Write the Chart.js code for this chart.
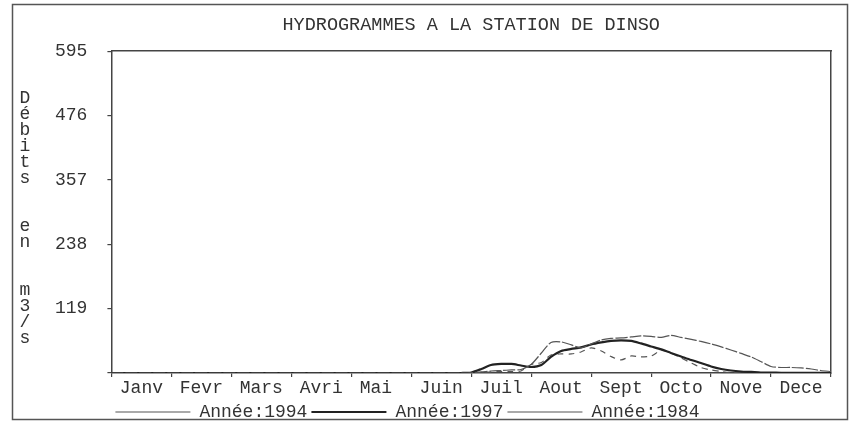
<!DOCTYPE html>
<html><head><meta charset="utf-8">
<script src="https://cdn.jsdelivr.net/npm/chart.js@4/dist/chart.umd.min.js"></script>
<style>html,body{margin:0;padding:0;background:#fff;}canvas{display:block;}</style>
</head><body>
<canvas id="c" width="855" height="423"></canvas>
<script>
const chartTitle = 'HYDROGRAMMES A LA STATION DE DINSO';
const yTitleChars = ['D','é','b','i','t','s','','','e','n','','','m','3','/','s'];
const monthLabels = ['Janv','Fevr','Mars','Avri','Mai ','Juin','Juil','Aout','Sept','Octo','Nove','Dece'];
const yTickValues = [0, 119, 238, 357, 476, 595];
const seriesNames = ['Année:1994', 'Année:1997', 'Année:1984'];
// position in months (0 = 1st January, 12 = 31st December)
const positions = [0, 5, 5.17, 5.33, 5.5, 5.67, 5.83, 6, 6.17, 6.33, 6.5, 6.67, 6.83, 7, 7.17, 7.33, 7.5, 7.67, 7.83, 8, 8.17, 8.33, 8.5, 8.67, 8.83, 9, 9.17, 9.33, 9.5, 9.67, 9.83, 10, 10.17, 10.33, 10.5, 10.67, 10.83, 11, 11.17, 11.33, 11.5, 11.67, 11.83, 12];
const q1994 = [0, 0, 0, 0, 0, 0, 0, 0.5, 1.9, 3.7, 4.6, 5.6, 6.5, 15.8, 37, 56.5, 57.5, 51.9, 46.4, 53.8, 61.2, 64, 64.9, 66.7, 68.6, 67.7, 65.8, 69.5, 65.8, 62.1, 58.4, 53.8, 48.2, 42.6, 36.2, 29.7, 21.3, 12.1, 10.2, 10.2, 9.3, 7.4, 4.6, 2.8];
const q1997 = [0, 0, 0, 0, 0, 0, 0, 1, 7.4, 14.8, 16.7, 16.7, 13.9, 11.1, 14.8, 29.7, 40.8, 44.5, 47.3, 52.8, 56.5, 59.3, 60.3, 59.3, 54.7, 49.1, 43.6, 37.1, 30.6, 24.1, 18.5, 12.1, 7.4, 4.6, 2.8, 1.9, 0.9, 0.9, 0.5, 0.5, 0.5, 0.5, 0.5, 0.5];
const q1984 = [0, 0, 0, 0, 0, 0, 0, 0, 0.9, 1.9, 2.8, 2.8, 3.7, 15.8, 19.5, 33.4, 35.2, 35.2, 38.9, 46.4, 40.8, 30.6, 24.1, 31.5, 29.7, 31.5, 41.7, 37.1, 27.8, 18.5, 10.2, 5.6, 2.8, 0.9, 0.5, 0, 0, 0, 0, 0, 0, 0, 0, 0];

const FONT = "'Liberation Mono', 'Courier New', monospace";
const INK = '#333';
const toPoints = (vals) => positions.map((x, i) => ({x, y: vals[i]}));

const decorPlugin = {
  id: 'decor',
  beforeDraw(chart) {
    const ctx = chart.ctx;
    ctx.save();
    ctx.fillStyle = '#fff';
    ctx.fillRect(0, 0, chart.width, chart.height);
    ctx.strokeStyle = '#555';
    ctx.lineWidth = 1.5;
    ctx.strokeRect(12.5, 4.5, chart.width - 20, chart.height - 8);
    ctx.restore();
  },
  afterDraw(chart) {
    const ctx = chart.ctx;
    ctx.save();
    ctx.font = '18px ' + FONT;
    ctx.fillStyle = INK;
    ctx.textAlign = 'center';
    ctx.textBaseline = 'middle';
    const y0 = chart.chartArea.top + 47;
    yTitleChars.forEach((ch, i) => { if (ch) ctx.fillText(ch, 25, y0 + 16 * i); });
    ctx.restore();
  }
};

new Chart(document.getElementById('c'), {
  type: 'line',
  data: {
    datasets: [
      {label: seriesNames[0], data: toPoints(q1994), borderColor: '#555', borderWidth: 1.2, borderDash: [12, 2]},
      {label: seriesNames[1], data: toPoints(q1997), borderColor: '#222', borderWidth: 2.2},
      {label: seriesNames[2], data: toPoints(q1984), borderColor: '#555', borderWidth: 1.2, borderDash: [6, 5]}
    ]
  },
  options: {
    responsive: false,
    animation: false,
    devicePixelRatio: 1,
    elements: {point: {radius: 0}, line: {tension: 0.25, fill: false}},
    layout: {padding: {left: 35, right: 24, top: 4, bottom: -8}},
    scales: {
      x: {
        type: 'linear', position: 'bottom', min: 0, max: 12,
        afterBuildTicks: (s) => { s.ticks = monthLabels.map((_, i) => ({value: i + 0.5})); },
        ticks: {autoSkip: false, maxRotation: 0, padding: 2, color: INK, font: {family: FONT, size: 18, lineHeight: 1},
          callback: (v, i) => monthLabels[i]},
        grid: {offset: true, drawOnChartArea: false, drawTicks: true, tickLength: 4, color: '#444', lineWidth: 1.2},
        border: {display: true, color: '#444', width: 1.5}
      },
      y: {
        type: 'linear', position: 'left', min: 0, max: 595,
        afterBuildTicks: (s) => { s.ticks = yTickValues.map(v => ({value: v})); },
        ticks: {padding: 20, color: INK, font: {family: FONT, size: 18},
          callback: (v) => v === 0 ? '' : String(v)},
        grid: {drawOnChartArea: false, drawTicks: true, tickLength: 4, color: '#444', lineWidth: 1.2},
        border: {display: true, color: '#444', width: 1.5}
      },
      x2: {
        type: 'linear', position: 'top', min: 0, max: 12,
        ticks: {display: false},
        grid: {drawOnChartArea: false, drawTicks: false},
        border: {display: true, color: '#444', width: 1.5}
      },
      y2: {
        type: 'linear', position: 'right', min: 0, max: 595,
        ticks: {display: false},
        grid: {drawOnChartArea: false, drawTicks: false},
        border: {display: true, color: '#444', width: 1.5}
      }
    },
    plugins: {
      tooltip: {enabled: false},
      title: {display: true, text: chartTitle, fullSize: false, color: INK,
        font: {family: FONT, size: 18.5, weight: 'normal'}, padding: {top: 10, bottom: 15}},
      legend: {
        display: true, position: 'bottom', align: 'start', fullSize: false,
        labels: {usePointStyle: true, pointStyle: 'line', pointStyleWidth: 75, padding: 4,
          color: INK, font: {family: FONT, size: 18}}
      }
    }
  },
  plugins: [decorPlugin]
});
</script>
</body></html>
